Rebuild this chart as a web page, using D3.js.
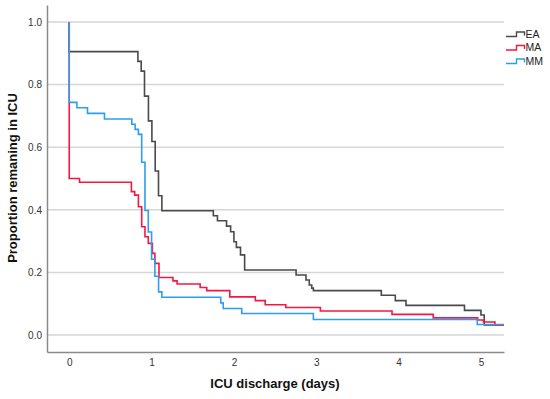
<!DOCTYPE html>
<html>
<head>
<meta charset="utf-8">
<script src="https://cdn.jsdelivr.net/npm/d3@7"></script>
<style>
  body { margin: 0; background: #fff; }
  svg { display: block; font-family: "Liberation Sans", Arial, sans-serif; }
</style>
</head>
<body>
<div id="chart"></div>
<script>
// Kaplan-Meier style steps: [days, proportion remaining]
let groups = ["EA", "MA", "MM"];
let groupColors = ["#4a4a4a", "#f5173f", "#2f9cee"];

let eaSteps = [[0, 1.0], [0, 0.905], [0.834, 0.874], [0.874, 0.843], [0.914, 0.763], [0.962, 0.684],
  [1.004, 0.618], [1.044, 0.524], [1.084, 0.445], [1.125, 0.397], [1.75, 0.381], [1.80, 0.365],
  [1.91, 0.348], [1.96, 0.330], [2.00, 0.298], [2.03, 0.280], [2.08, 0.256], [2.13, 0.208],
  [2.755, 0.192], [2.875, 0.176], [2.915, 0.160], [2.945, 0.150], [2.965, 0.142], [3.79, 0.127],
  [3.96, 0.110], [4.09, 0.095], [4.80, 0.079], [5.0, 0.064], [5.04, 0.032]];

let maSteps = [[0, 1.0], [0, 0.50], [0.125, 0.488], [0.755, 0.458], [0.795, 0.447], [0.84, 0.41],
  [0.88, 0.346], [0.92, 0.314], [0.96, 0.293], [1.01, 0.261], [1.04, 0.229], [1.09, 0.184],
  [1.26, 0.173], [1.31, 0.163], [1.59, 0.152], [1.67, 0.142], [1.95, 0.122], [2.26, 0.110],
  [2.38, 0.097], [2.63, 0.088], [3.05, 0.077], [3.92, 0.066], [4.42, 0.055], [4.96, 0.048],
  [5.03, 0.042], [5.17, 0.032]];

let mmSteps = [[0, 1.0], [0, 0.743], [0.093, 0.726], [0.222, 0.708], [0.428, 0.690], [0.76, 0.673],
  [0.80, 0.657], [0.84, 0.641], [0.88, 0.552], [0.92, 0.398], [0.96, 0.329], [1.0, 0.242],
  [1.04, 0.188], [1.085, 0.138], [1.125, 0.121], [1.84, 0.103], [1.87, 0.085], [2.095, 0.069],
  [2.965, 0.050], [4.955, 0.034]];

let followUpEnd = 5.28;
let xTicks = [0, 1, 2, 3, 4, 5];
let yTicks = [0.0, 0.2, 0.4, 0.6, 0.8, 1.0];

let width = 550, height = 399;
let margin = {top: 5, right: 46, bottom: 47, left: 47};

let x = d3.scaleLinear()
    .domain([-0.27, followUpEnd])
    .range([margin.left, width - margin.right]);

let y = d3.scaleLinear()
    .domain([-0.054, 1.054])
    .range([height - margin.bottom, margin.top]);

let svg = d3.select("#chart").append("svg")
    .attr("width", width)
    .attr("height", height);

// gridlines
svg.append("g")
    .selectAll("line")
    .data(yTicks)
  .enter().append("line")
    .attr("x1", x.range()[0])
    .attr("x2", x.range()[1])
    .attr("y1", d => y(d))
    .attr("y2", d => y(d))
    .attr("stroke", "#d6d6d6")
    .attr("stroke-width", 1.5);

// axes, no tick marks
let yAxis = d3.axisLeft(y).tickValues(yTicks).tickFormat(d3.format(".1f")).tickSize(0).tickPadding(5);
let xAxis = d3.axisBottom(x).tickValues(xTicks).tickFormat(d3.format("d")).tickSize(0).tickPadding(7);

svg.append("g")
    .attr("transform", `translate(${margin.left},0)`)
    .call(yAxis)
    .call(g => g.select(".domain").attr("stroke", "#8a8a8a").attr("stroke-width", 1.5))
    .selectAll("text")
    .style("font-size", "10px")
    .attr("fill", "#333");

svg.append("g")
    .attr("transform", `translate(0,${height - margin.bottom})`)
    .call(xAxis)
    .call(g => g.select(".domain").attr("stroke", "#8a8a8a").attr("stroke-width", 1.5))
    .selectAll("text")
    .style("font-size", "10px")
    .attr("fill", "#333");

// survival curves
let line = d3.line()
    .x(d => x(d[0]))
    .y(d => y(d[1]))
    .curve(d3.curveStepAfter);

let series = [eaSteps, maSteps, mmSteps].map(steps => {
  let last = steps[steps.length - 1];
  return steps.concat([[followUpEnd, last[1]]]);
});

svg.append("g")
    .selectAll("path")
    .data(series)
  .enter().append("path")
    .attr("d", line)
    .attr("fill", "none")
    .attr("stroke", (d, i) => groupColors[i])
    .attr("stroke-width", 1.6);

// legend
let legend = svg.append("g")
    .selectAll("g")
    .data(groups)
  .enter().append("g")
    .attr("transform", (d, i) => `translate(506,${34 + i * 13.5})`);

legend.append("path")
    .attr("d", "M0,2.5 H10.5 V-2 H18.5 V1.5")
    .attr("fill", "none")
    .attr("stroke", (d, i) => groupColors[i])
    .attr("stroke-width", 1.4);

legend.append("text")
    .attr("x", 19.5)
    .attr("y", 0)
    .attr("dy", "0.35em")
    .text(d => d)
    .style("font-size", "10.5px")
    .attr("fill", "#222");

// axis titles
svg.append("text")
    .attr("x", 275)
    .attr("y", 388)
    .attr("text-anchor", "middle")
    .style("font-size", "13px")
    .style("font-weight", "bold")
    .attr("fill", "#111")
    .text("ICU discharge (days)");

svg.append("text")
    .attr("transform", "translate(17,178) rotate(-90)")
    .attr("text-anchor", "middle")
    .style("font-size", "13px")
    .style("font-weight", "bold")
    .attr("fill", "#111")
    .text("Proportion remaning in ICU");
</script>
</body>
</html>
